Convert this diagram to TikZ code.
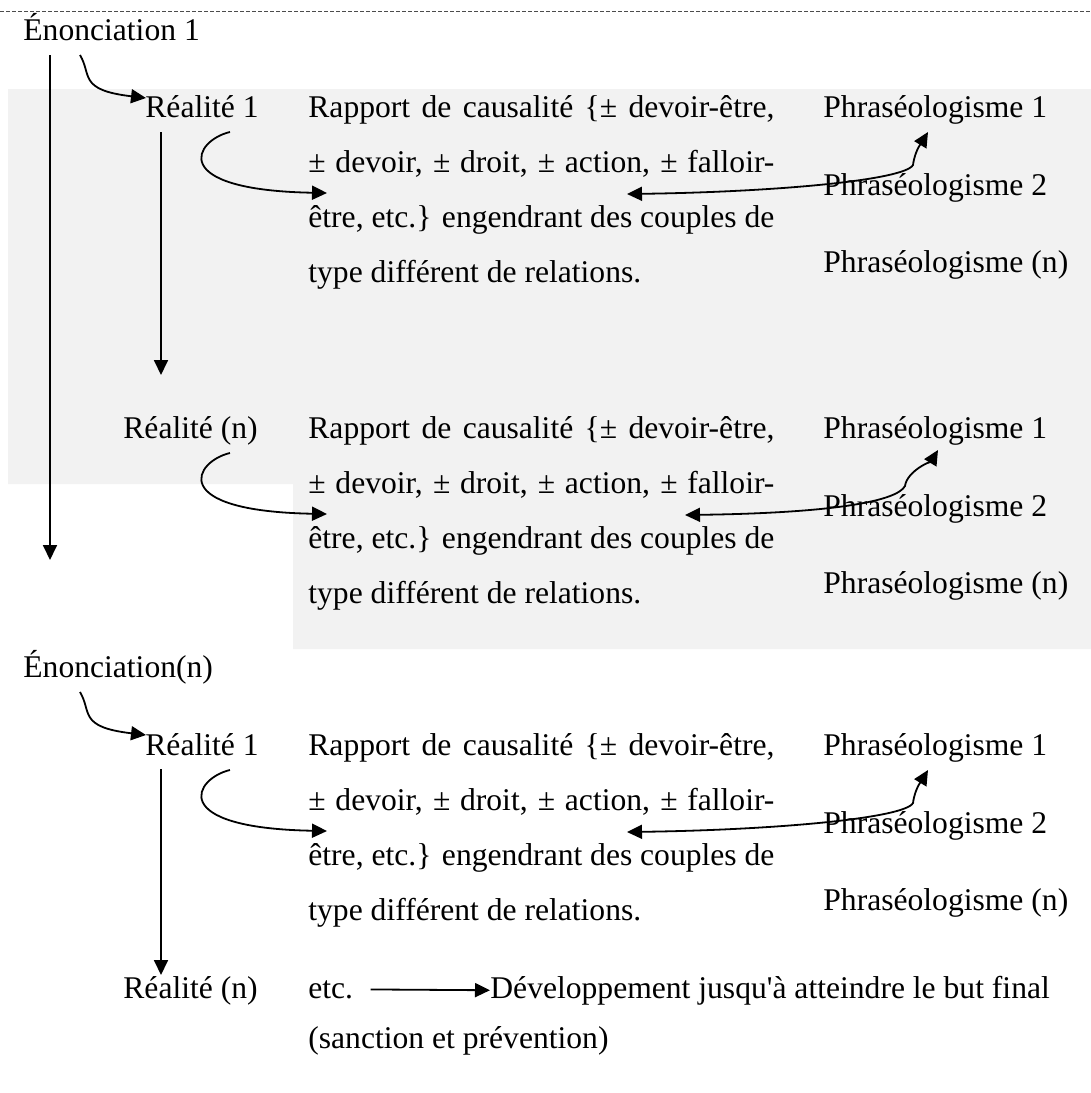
\documentclass[tikz,border=0pt]{standalone}
\usepackage{fontspec}
\setmainfont{Liberation Serif}[Ligatures=TeXOff]
\usetikzlibrary{arrows.meta}

\begin{document}
\begin{tikzpicture}[x=0.5pt, y=-0.5pt,
  txt/.style={anchor=base west, inner sep=0pt, font=\fontsize{15.8}{27.5}\selectfont},
  para/.style={txt, text width=233pt, align=justify},
  fleche/.style={-{Triangle[length=7.5pt,width=7pt]}, line width=0.9pt},
  fleches/.style={{Triangle[length=7.5pt,width=7pt]}-{Triangle[length=7.5pt,width=7pt]}, line width=0.9pt}]
\useasboundingbox (0,0) rectangle (1091,1093);
% fond gris
\fill[black!5] (8,89) -- (1091,89) -- (1091,649) -- (293,649) -- (293,484) -- (8,484) -- cycle;
\draw[black!70, line width=0.4pt, dash pattern=on 2pt off 1pt] (0,11) -- (1091,11);

\node[txt] (enon1) at (23,40) {Énonciation 1};
\node[txt] (enonn) at (23,677) {Énonciation(n)};

% les trois blocs
\foreach \dy/\k/\reel/\rx/\lx/\bx/\ux/\uy in {0/a/{Réalité 1}/145/627/913/928/132, 321/b/{Réalité (n)}/123/685/905/938/129, 638/c/{Réalité 1}/145/627/913/928/132}{
  \node[txt] (reel\k) at (\rx,117+\dy) {\reel};
  \node[para] (rapport\k) at (308,117+\dy) {\tolerance=9999 Rapport de causalité \{± devoir-être,\linebreak ± devoir, ± droit, ± action, ± falloir-\linebreak être, etc.\} engendrant des couples de\linebreak type différent de relations.};
  \node[txt] (phra\k) at (823,117+\dy) {Phraséologisme 1};
  \node[txt] (phrb\k) at (823,195+\dy) {Phraséologisme 2};
  \node[txt] (phrn\k) at (823,272+\dy) {Phraséologisme (n)};
  \coordinate (rs\k) at (230,132+\dy);
  \coordinate (rt\k) at (327,193+\dy);
  \coordinate (ga\k) at (\lx,194+\dy);
  \coordinate (dr\k) at (\ux,\uy+\dy);
  \draw[fleche] (rs\k) .. controls +(-35,8) and +(-162,-3) .. (rt\k);
  \draw[fleches] (ga\k) .. controls +(150,-2) and +(-8,15) .. (\bx,165+\dy) .. controls +(2,-15) and +(-6,10) .. (dr\k);
}

\node[txt] (reelnc) at (123,998) {Réalité (n)};
\node[txt] (etc) at (308,998) {etc.};
\node[txt] (dev) at (490,998) {Développement jusqu'à atteindre le but final};
\node[txt] (sanc) at (308,1048) {(sanction et prévention)};

% fleches
\coordinate (e1) at (50,55);
\coordinate (e2) at (50,560);
\coordinate (c1) at (80,55);
\coordinate (c2) at (146,98);
\coordinate (c3) at (80,692);
\coordinate (c4) at (146,735);
\coordinate (v1) at (161,132);
\coordinate (v2) at (161,375);
\coordinate (v3) at (161,769);
\coordinate (v4) at (161,975);
\draw[fleche] (e1) -- (e2);
\draw[fleche] (c1) .. controls +(12,20) and +(-68,-8) .. (c2);
\draw[fleche] (c3) .. controls +(12,20) and +(-68,-8) .. (c4);
\draw[fleche] (v1) -- (v2);
\draw[fleche] (v3) -- (v4);
\draw[fleche, shorten <=8.5pt] (etc.east) -- (dev.west);
\end{tikzpicture}
\end{document}
